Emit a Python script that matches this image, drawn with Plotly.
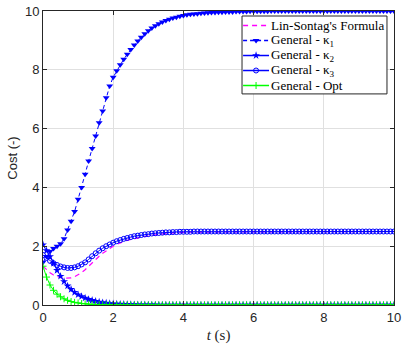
import plotly.graph_objects as go

# time grid (s), sampling step 0.1
t = [round(0.1 * i, 1) for i in range(101)]

lin_sontag = [
    1.32, 1.20, 1.10, 1.02, 0.97, 0.93, 0.91, 0.91, 0.92, 0.96,
    1.02, 1.10, 1.20, 1.32, 1.43, 1.55, 1.66, 1.76, 1.85, 1.93,
    2.00, 2.06, 2.11, 2.16, 2.20, 2.23, 2.26, 2.29, 2.31, 2.33,
    2.35, 2.37, 2.39, 2.40, 2.42, 2.43, 2.44, 2.45, 2.46, 2.46,
    2.47, 2.47, 2.48, 2.48, 2.48, 2.49, 2.49, 2.49, 2.49, 2.49,
    2.49, 2.50, 2.50, 2.50, 2.50, 2.50, 2.50, 2.50, 2.50, 2.50,
    2.50, 2.50, 2.50, 2.50, 2.50, 2.50, 2.50, 2.50, 2.50, 2.50,
    2.50, 2.50, 2.50, 2.50, 2.50, 2.50, 2.50, 2.50, 2.50, 2.50,
    2.50, 2.50, 2.50, 2.50, 2.50, 2.50, 2.50, 2.50, 2.50, 2.50,
    2.50, 2.50, 2.50, 2.50, 2.50, 2.50, 2.50, 2.50, 2.50, 2.50,
    2.50,
]

general_k1 = [
    1.45, 1.65, 1.82, 1.92, 2.00, 2.08, 2.25, 2.55, 2.85, 3.18,
    3.60, 4.00, 4.45, 4.90, 5.32, 5.75, 6.20, 6.60, 7.05, 7.45,
    7.75, 7.97, 8.17, 8.36, 8.53, 8.69, 8.84, 8.98, 9.11, 9.23,
    9.33, 9.42, 9.50, 9.57, 9.63, 9.68, 9.72, 9.76, 9.79, 9.82,
    9.85, 9.87, 9.89, 9.90, 9.91, 9.92, 9.93, 9.94, 9.95, 9.95,
    9.96, 9.96, 9.97, 9.97, 9.97, 9.98, 9.98, 9.98, 9.98, 9.99,
    9.99, 9.99, 9.99, 9.99, 9.99, 10.0, 10.0, 10.0, 10.0, 10.0,
    10.0, 10.0, 10.0, 10.0, 10.0, 10.0, 10.0, 10.0, 10.0, 10.0,
    10.0, 10.0, 10.0, 10.0, 10.0, 10.0, 10.0, 10.0, 10.0, 10.0,
    10.0, 10.0, 10.0, 10.0, 10.0, 10.0, 10.0, 10.0, 10.0, 10.0,
    10.0,
]

general_k2 = [
    2.05, 1.85, 1.65, 1.42, 1.18, 0.98, 0.80, 0.65, 0.53, 0.43,
    0.35, 0.29, 0.24, 0.19, 0.16, 0.13, 0.10, 0.08, 0.07, 0.05,
    0.04, 0.035, 0.03, 0.025, 0.02, 0.015, 0.012, 0.01, 0.008, 0.006,
    0.005, 0.004, 0.003, 0.002, 0.002, 0.001, 0.001, 0.0, 0.0, 0.0,
    0.0, 0.0, 0.0, 0.0, 0.0, 0.0, 0.0, 0.0, 0.0, 0.0,
    0.0, 0.0, 0.0, 0.0, 0.0, 0.0, 0.0, 0.0, 0.0, 0.0,
    0.0, 0.0, 0.0, 0.0, 0.0, 0.0, 0.0, 0.0, 0.0, 0.0,
    0.0, 0.0, 0.0, 0.0, 0.0, 0.0, 0.0, 0.0, 0.0, 0.0,
    0.0, 0.0, 0.0, 0.0, 0.0, 0.0, 0.0, 0.0, 0.0, 0.0,
    0.0, 0.0, 0.0, 0.0, 0.0, 0.0, 0.0, 0.0, 0.0, 0.0,
    0.0,
]

general_k3 = [
    1.70, 1.60, 1.50, 1.42, 1.36, 1.31, 1.28, 1.26, 1.26, 1.28,
    1.32, 1.38, 1.45, 1.55, 1.66, 1.76, 1.85, 1.93, 2.00, 2.06,
    2.12, 2.17, 2.21, 2.25, 2.28, 2.31, 2.34, 2.36, 2.38, 2.40,
    2.41, 2.43, 2.44, 2.45, 2.46, 2.47, 2.47, 2.48, 2.48, 2.49,
    2.49, 2.49, 2.49, 2.50, 2.50, 2.50, 2.50, 2.50, 2.50, 2.50,
    2.50, 2.50, 2.50, 2.50, 2.50, 2.50, 2.50, 2.50, 2.50, 2.50,
    2.50, 2.50, 2.50, 2.50, 2.50, 2.50, 2.50, 2.50, 2.50, 2.50,
    2.50, 2.50, 2.50, 2.50, 2.50, 2.50, 2.50, 2.50, 2.50, 2.50,
    2.50, 2.50, 2.50, 2.50, 2.50, 2.50, 2.50, 2.50, 2.50, 2.50,
    2.50, 2.50, 2.50, 2.50, 2.50, 2.50, 2.50, 2.50, 2.50, 2.50,
    2.50,
]

general_opt = [
    1.32, 0.95, 0.68, 0.50, 0.37, 0.28, 0.21, 0.16, 0.12, 0.09,
    0.07, 0.05, 0.04, 0.03, 0.02, 0.015, 0.01, 0.008, 0.006, 0.004,
    0.003, 0.002, 0.001, 0.0, 0.0, 0.0, 0.0, 0.0, 0.0, 0.0,
    0.0, 0.0, 0.0, 0.0, 0.0, 0.0, 0.0, 0.0, 0.0, 0.0,
    0.0, 0.0, 0.0, 0.0, 0.0, 0.0, 0.0, 0.0, 0.0, 0.0,
    0.0, 0.0, 0.0, 0.0, 0.0, 0.0, 0.0, 0.0, 0.0, 0.0,
    0.0, 0.0, 0.0, 0.0, 0.0, 0.0, 0.0, 0.0, 0.0, 0.0,
    0.0, 0.0, 0.0, 0.0, 0.0, 0.0, 0.0, 0.0, 0.0, 0.0,
    0.0, 0.0, 0.0, 0.0, 0.0, 0.0, 0.0, 0.0, 0.0, 0.0,
    0.0, 0.0, 0.0, 0.0, 0.0, 0.0, 0.0, 0.0, 0.0, 0.0,
    0.0,
]

names = ["Lin-Sontag's Formula", "General - κ<sub>1</sub>", "General - κ<sub>2</sub>",
         "General - κ<sub>3</sub>", "General - Opt"]
x_ticks = [0, 2, 4, 6, 8, 10]
y_ticks = [0, 2, 4, 6, 8, 10]

BLUE = "rgb(0,0,255)"
MAGENTA = "rgb(255,0,255)"
GREEN = "rgb(0,255,0)"

styles = [
    dict(line=dict(color=MAGENTA, width=1.2, dash="5px,4px"), marker=None),
    dict(line=dict(color=BLUE, width=1, dash="4px,3px"),
         marker=dict(symbol="triangle-down", size=6, color=BLUE)),
    dict(line=dict(color=BLUE, width=1),
         marker=dict(symbol="star", size=6, color=BLUE)),
    dict(line=dict(color=BLUE, width=1),
         marker=dict(symbol="circle-open", size=5, color=BLUE, line=dict(width=1, color=BLUE))),
    dict(line=dict(color=GREEN, width=1),
         marker=dict(symbol="cross-thin-open", size=5, color=GREEN, line=dict(width=1, color=GREEN))),
]
series = [lin_sontag, general_k1, general_k2, general_k3, general_opt]

fig = go.Figure()
for s, st in zip(series, styles):
    if st["marker"] is None:
        fig.add_trace(go.Scatter(x=t, y=s, mode="lines", line=st["line"], showlegend=False))
    else:
        fig.add_trace(go.Scatter(x=t, y=s, mode="lines+markers", line=st["line"],
                                 marker=st["marker"], showlegend=False))

# ---- hand-built legend on an overlay axis (0..1 = plot area) ----
box_x0, box_x1, box_y0, box_y1 = 0.567, 0.980, 0.718, 0.983
fig.add_trace(go.Scatter(x=[box_x0, box_x1, box_x1, box_x0, box_x0],
                         y=[box_y0, box_y0, box_y1, box_y1, box_y0],
                         mode="lines", fill="toself", fillcolor="white",
                         line=dict(color="#262626", width=1),
                         xaxis="x2", yaxis="y2", showlegend=False, hoverinfo="skip"))
leg_y = [0.9507, 0.8997, 0.8486, 0.7976, 0.7466]
sx0, sx1, smid, tx = 0.570, 0.644, 0.607, 0.650
for name, st, ly in zip(names, styles, leg_y):
    sample_line = dict(st["line"])
    sample_line["width"] = 1.5
    fig.add_trace(go.Scatter(x=[sx0, sx1], y=[ly, ly], mode="lines", line=sample_line,
                             xaxis="x2", yaxis="y2", showlegend=False, hoverinfo="skip"))
    if st["marker"] is not None:
        fig.add_trace(go.Scatter(x=[smid], y=[ly], mode="markers", marker=st["marker"],
                                 xaxis="x2", yaxis="y2", showlegend=False, hoverinfo="skip"))
    fig.add_annotation(x=tx, y=ly, xref="paper", yref="paper", text=name, showarrow=False,
                       xanchor="left", yanchor="middle", xshift=-2,
                       font=dict(family="Liberation Serif, serif", size=13, color="black"))

axis_common = dict(
    showline=True, linecolor="#262626", linewidth=1, mirror="ticks",
    ticks="inside", ticklen=4, tickcolor="#262626",
    showgrid=True, gridcolor="#e0e0e0", gridwidth=1, zeroline=False, automargin=False,
    tickfont=dict(family="Liberation Sans, Arial", size=13, color="#262626"),
)

fig.update_layout(
    width=407, height=350,
    margin=dict(l=43, r=13, t=11, b=45, autoexpand=False),
    plot_bgcolor="white", paper_bgcolor="white",
    showlegend=False,
    xaxis=dict(range=[0, 10], tickvals=x_ticks, **axis_common,
               title=dict(text="<i>t</i> (s)", standoff=5,
                          font=dict(family="Liberation Serif, serif", size=15, color="#262626"))),
    yaxis=dict(range=[0, 10], tickvals=y_ticks, **axis_common,
               title=dict(text="Cost (-)", standoff=4,
                          font=dict(family="Liberation Sans, Arial", size=13, color="#262626"))),
    xaxis2=dict(overlaying="x", anchor="y2", range=[0, 1], visible=False),
    yaxis2=dict(overlaying="y", anchor="x2", range=[0, 1], visible=False),
)

fig.write_html("out.html")
